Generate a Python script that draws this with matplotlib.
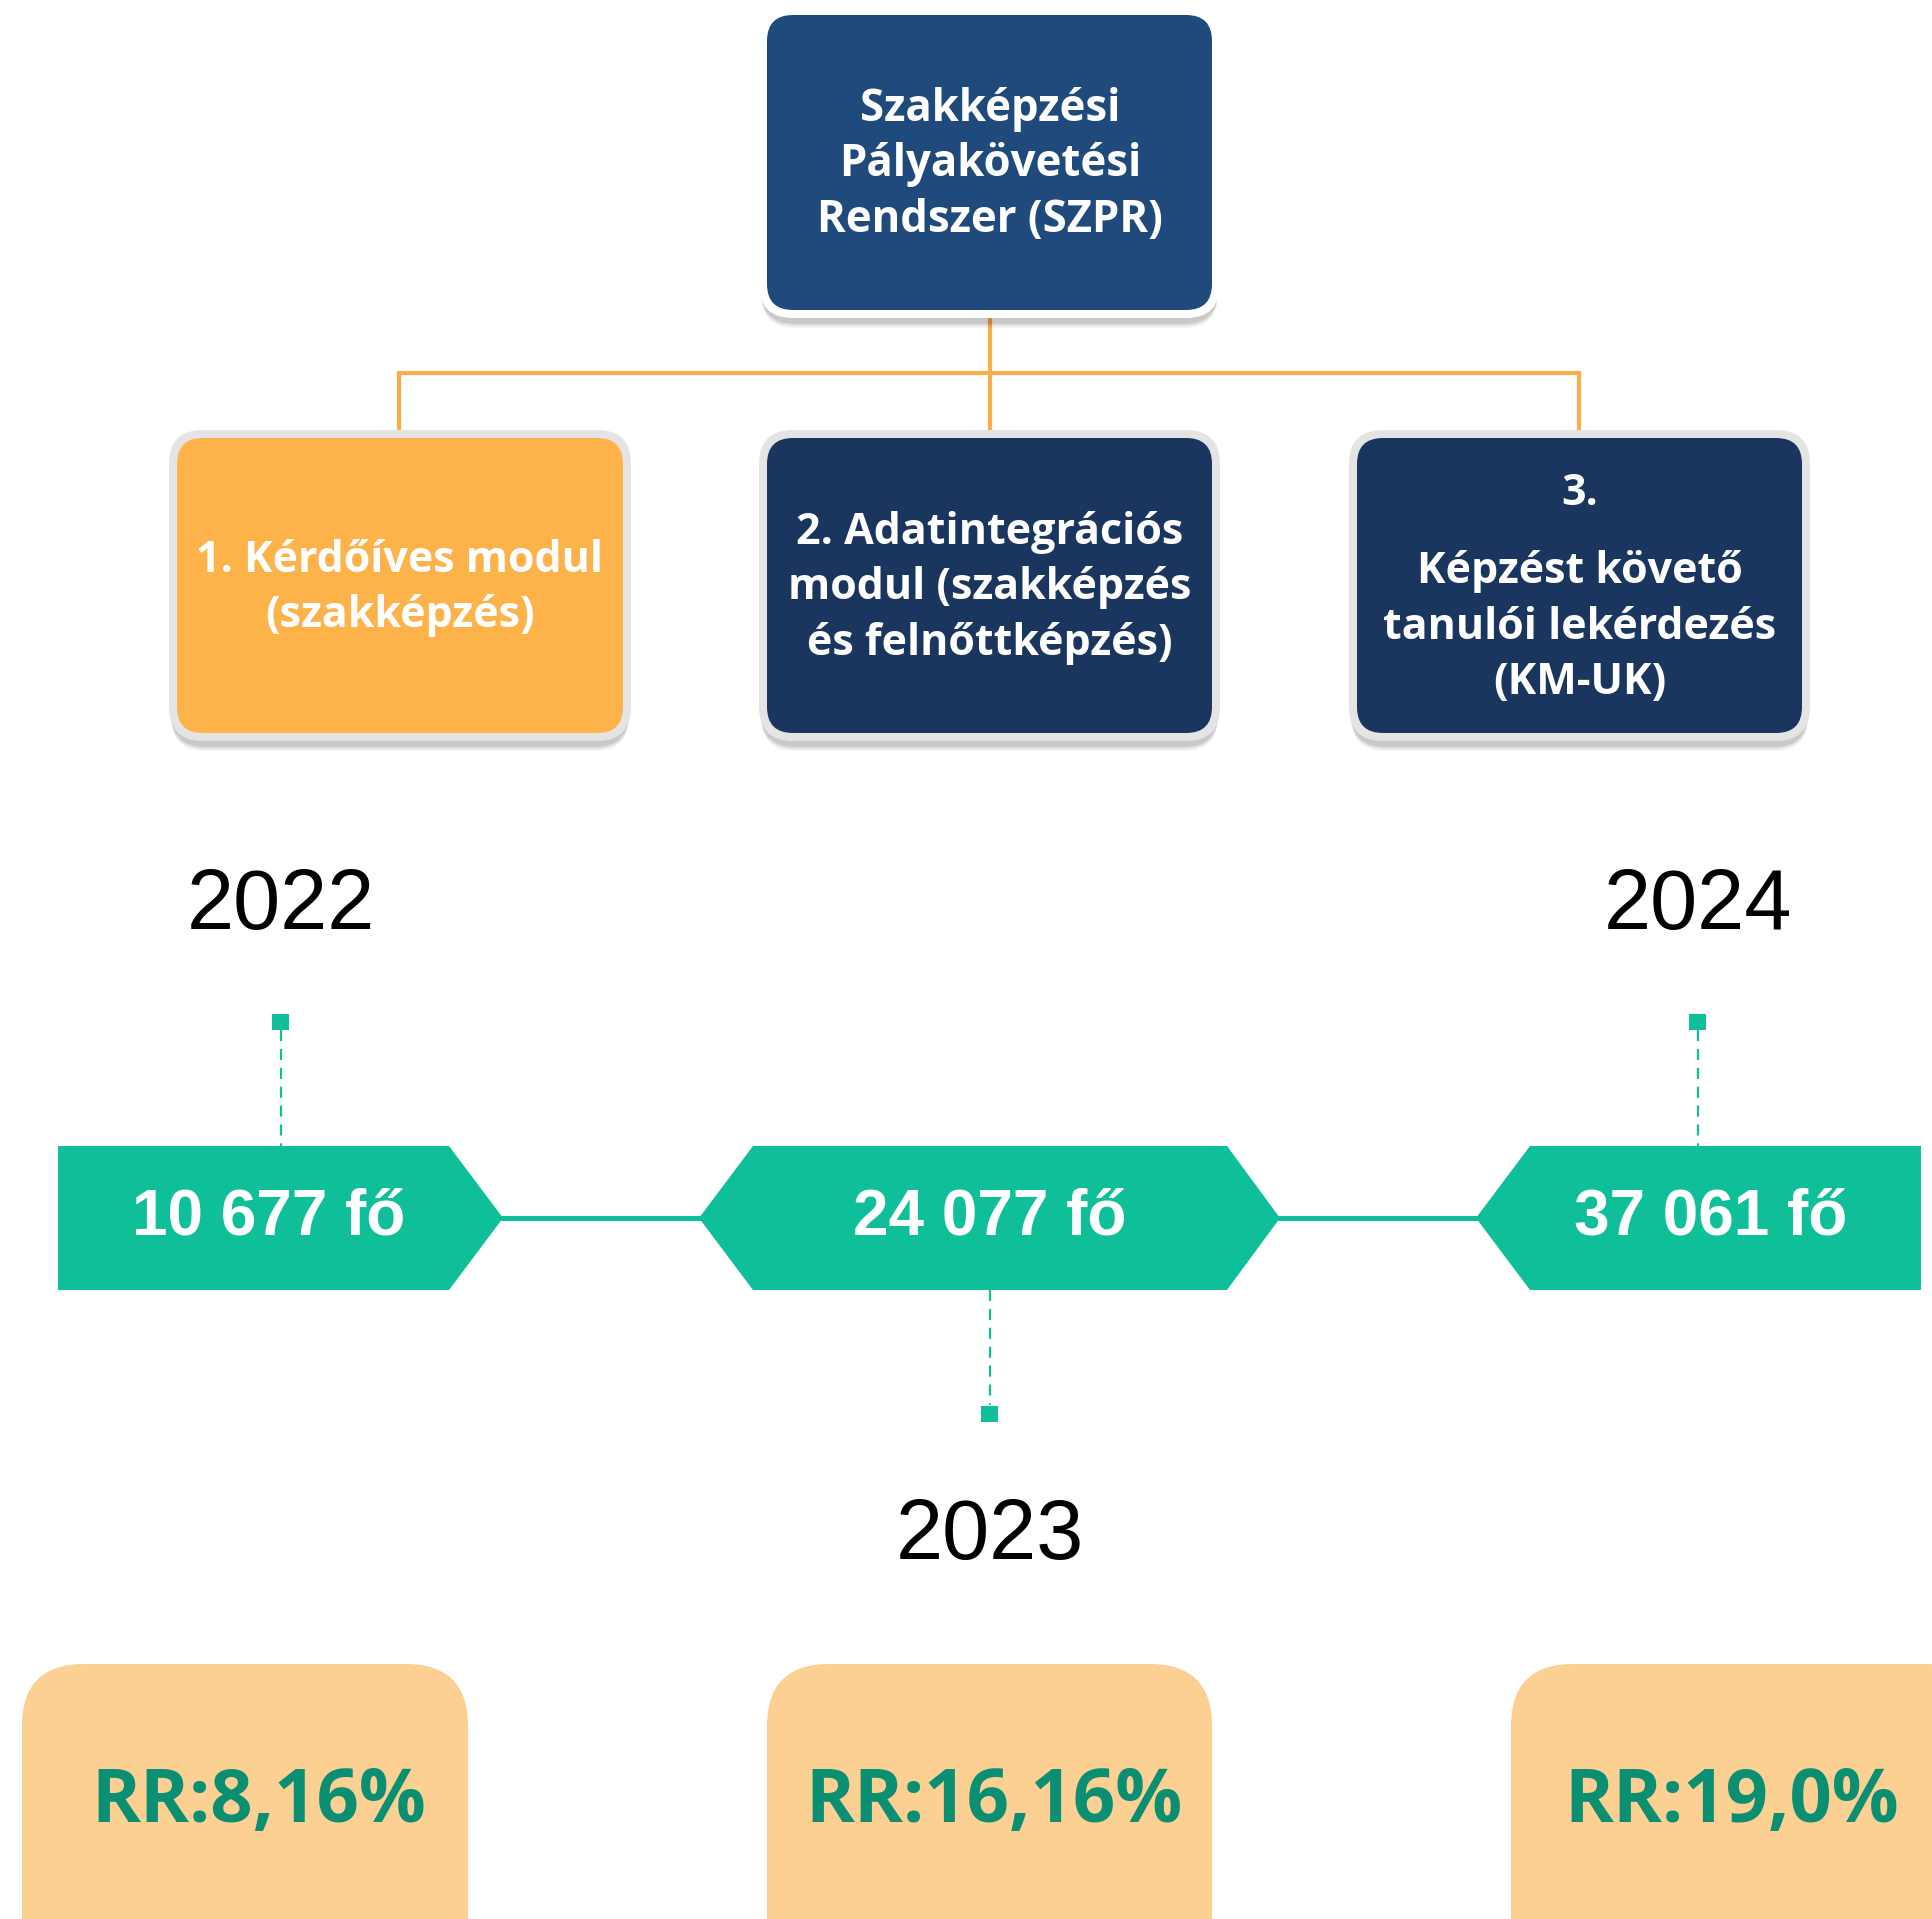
import matplotlib
matplotlib.use("Agg")
import matplotlib.pyplot as plt
from matplotlib.patches import FancyBboxPatch, Polygon, Rectangle

# ---- data ----
top_title = ["Szakképzési", "Pályakövetési", "Rendszer (SZPR)"]
module_texts = [
    ["1. Kérdőíves modul", "(szakképzés)"],
    ["2. Adatintegrációs", "modul (szakképzés", "és felnőttképzés)"],
    ["3.", "Képzést követő", "tanulói lekérdezés", "(KM-UK)"],
]
years = ["2022", "2023", "2024"]
counts = ["10 677 fő", "24 077 fő", "37 061 fő"]
rr_labels = ["RR:8,16%", "RR:16,16%", "RR:19,0%"]

# ---- style ----
W, H = 1933, 1919
NAVY_TOP = "#214A7C"
NAVY = "#1B365E"
ORANGE = "#FDB24A"
ORANGE_LINE = "#F9AE4A"
GREEN = "#0EBF99"
PEACH = "#FCD092"
RR_GREEN = "#0B8F72"
CAL = ["Open Sans", "DejaVu Sans"]
ARIAL = ["Liberation Sans", "DejaVu Sans"]

fig = plt.figure(figsize=(W / 100, H / 100), dpi=100)
ax = fig.add_axes([0, 0, 1, 1])
ax.set_xlim(0, W)
ax.set_ylim(H, 0)
ax.axis("off")


def card(x0, y0, x1, y1, face, border, r=26, bw=8):
    # soft shadow
    for i, a in enumerate([0.10, 0.07, 0.05]):
        ax.add_patch(FancyBboxPatch((x0 - bw + 2, y0 - bw + 6 + 2 * i),
                                    (x1 - x0) + 2 * bw - 4, (y1 - y0) + 2 * bw,
                                    boxstyle=f"round,pad=0,rounding_size={r + bw}",
                                    fc="#000000", ec="none", alpha=a, zorder=1))
    ax.add_patch(FancyBboxPatch((x0 - bw, y0 - bw), (x1 - x0) + 2 * bw, (y1 - y0) + 2 * bw,
                                boxstyle=f"round,pad=0,rounding_size={r + bw}",
                                fc=border, ec="none", zorder=2))
    ax.add_patch(FancyBboxPatch((x0, y0), x1 - x0, y1 - y0,
                                boxstyle=f"round,pad=0,rounding_size={r}",
                                fc=face, ec="none", zorder=3))


# ---- top box ----
card(767, 15, 1212, 310, NAVY_TOP, "#FFFFFF")
for i, t in enumerate(top_title):
    ax.text(990, 109 + 55.5 * i, t, ha="center", va="center", color="white",
            fontsize=31.5, fontweight="bold", family=CAL, zorder=5)

# ---- connectors ----
lw_o = 3.0
ax.plot([990, 990], [317, 373], color=ORANGE_LINE, lw=lw_o, zorder=0, solid_capstyle="butt")
ax.plot([399, 1579], [373, 373], color=ORANGE_LINE, lw=lw_o, zorder=0, solid_capstyle="projecting")
for cx in [399, 990, 1579]:
    ax.plot([cx, cx], [373, 431], color=ORANGE_LINE, lw=lw_o, zorder=0, solid_capstyle="butt")

# ---- module boxes ----
mod_x = [(177, 623), (767, 1212), (1357, 1802)]
mod_faces = [ORANGE, NAVY, NAVY]
line_y = [[560, 615], [532, 587, 643], [493, 571, 627, 682]]
for (x0, x1), face, lines, ys in zip(mod_x, mod_faces, module_texts, line_y):
    card(x0, 438, x1, 733, face, "#E4E4E4")
    for t, y in zip(lines, ys):
        ax.text((x0 + x1) / 2, y, t, ha="center", va="center", color="white",
                fontsize=31, fontweight="bold", family=CAL, zorder=5)

# ---- timeline ----
ym, yt, yb = 1218, 1146, 1290
shapes = [
    [(58, yt), (449, yt), (503, ym), (449, yb), (58, yb)],
    [(699, ym), (753, yt), (1227, yt), (1280, ym), (1227, yb), (753, yb)],
    [(1476, ym), (1530, yt), (1921, yt), (1921, yb), (1530, yb)],
]
for pts in shapes:
    ax.add_patch(Polygon(pts, closed=True, fc=GREEN, ec="none", zorder=3))
ax.plot([503, 699], [ym, ym], color=GREEN, lw=3.6, zorder=2)
ax.plot([1280, 1476], [ym, ym], color=GREEN, lw=3.6, zorder=2)

count_x = [269, 990, 1711]
for x, t in zip(count_x, counts):
    ax.text(x, ym - 1, t, ha="center", va="center", color="white",
            fontsize=46, fontweight="bold", family=ARIAL, zorder=5)

# year markers: (marker x, marker y, dash from, dash to, label y)
year_pos = [(281, 1022, 1030, 1146, 907), (990, 1414, 1290, 1405, 1537), (1698, 1022, 1030, 1146, 907)]
for (mx, my, d0, d1, ly), yr in zip(year_pos, years):
    ax.plot([mx, mx], [d0, d1], color=GREEN, lw=1.6, ls=(0, (5, 3.5)), zorder=2)
    ax.add_patch(Rectangle((mx - 8.5, my - 8), 17, 16, fc=GREEN, ec="none", zorder=3))
    ax.text(mx, ly, yr, ha="center", va="center", color="black",
            fontsize=61, family=ARIAL, zorder=5)

# ---- RR boxes ----
rr_x = [(22, 468), (767, 1212), (1511, 1990)]
rr_tx = [259, 994, 1732]
for (x0, x1), tx, t in zip(rr_x, rr_tx, rr_labels):
    ax.add_patch(FancyBboxPatch((x0, 1664), x1 - x0, 330,
                                boxstyle="round,pad=0,rounding_size=62",
                                fc=PEACH, ec="none", zorder=3))
    ax.text(tx, 1803, t, ha="center", va="center", color=RR_GREEN,
            fontsize=53.5, fontweight="bold", family=CAL, zorder=5)

fig.savefig("out.png", dpi=100)
